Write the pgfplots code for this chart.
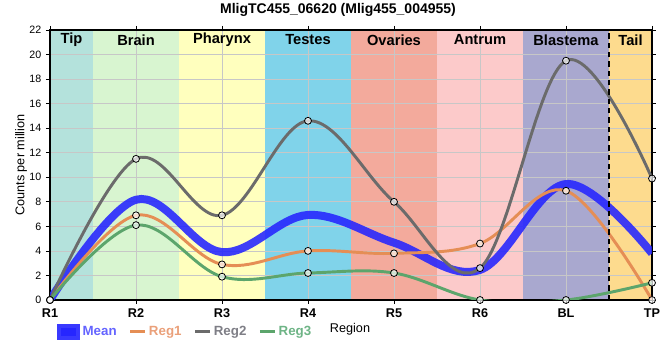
\documentclass[border=0pt]{standalone}
\usepackage{pgfplots}
\pgfplotsset{compat=1.18}
\usepackage{fontspec}
\setmainfont{Liberation Sans}
\definecolor{cTip}{HTML}{B4E2DC}
\definecolor{cBrain}{HTML}{D8F5D0}
\definecolor{cPhar}{HTML}{FFFFBE}
\definecolor{cTest}{HTML}{80D3EA}
\definecolor{cOva}{HTML}{F3AA9C}
\definecolor{cAnt}{HTML}{FCCACA}
\definecolor{cBlas}{HTML}{A9A8CF}
\definecolor{cTail}{HTML}{FDDB8E}
\definecolor{cMean}{HTML}{2424FF}
\definecolor{cReg1}{HTML}{E58E55}
\definecolor{cReg2}{HTML}{6B6B6B}
\definecolor{cReg3}{HTML}{5CA56C}
\definecolor{tMean}{HTML}{6464FF}
\definecolor{tReg1}{HTML}{EAA07A}
\definecolor{tReg2}{HTML}{7E7E86}
\definecolor{tReg3}{HTML}{6EB486}
\pgfplotsset{band/.style={fill=#1, draw=none, forget plot, sharp plot, mark=none, on layer=axis background}}
\begin{document}
\begin{tikzpicture}
\begin{axis}[
  set layers,
  at={(0pt,0pt)}, anchor=south west,
  scale only axis, width=451.5pt, height=202.5pt,
  xmin=0, xmax=7, ymin=0, ymax=22,
  xtick={0,...,7},
  xticklabels={R1,R2,R3,R4,R5,R6,BL,TP},
  x tick label style={font=\fontsize{9.5}{10}\selectfont\bfseries},
  ytick={0,2,...,22},
  y tick label style={font=\fontsize{8}{9}\selectfont},
  /pgf/number format/assume math mode=true,
  tick align=outside, tick style={black, line width=0.6pt},
  major tick length=3pt,
  grid=major, grid style={color=black!22, line width=0.6pt},
  axis line style={black, line width=1.1pt},
  ylabel={Counts per million},
  ylabel style={font=\fontsize{9.5}{10}\selectfont, yshift=-5pt},
  clip=true,
  legend style={at={(axis description cs:0.005,-0.075)}, anchor=north west,
     draw=none, fill=none, legend columns=4,
     font=\fontsize{10}{11}\selectfont\bfseries,
     /tikz/every even column/.append style={column sep=7pt}},
  legend image code/.code={\draw[#1] (0pt,0pt) -- (11pt,0pt);},
  mark options={solid, draw=black, fill=white, fill opacity=0.7, line width=0.6pt},
]
\addplot[band=cTip]   coordinates {(0,22) (0.5,22)} \closedcycle;
\addplot[band=cBrain] coordinates {(0.5,22) (1.5,22)} \closedcycle;
\addplot[band=cPhar]  coordinates {(1.5,22) (2.5,22)} \closedcycle;
\addplot[band=cTest]  coordinates {(2.5,22) (3.5,22)} \closedcycle;
\addplot[band=cOva]   coordinates {(3.5,22) (4.5,22)} \closedcycle;
\addplot[band=cAnt]   coordinates {(4.5,22) (5.5,22)} \closedcycle;
\addplot[band=cBlas]  coordinates {(5.5,22) (6.5,22)} \closedcycle;
\addplot[band=cTail]  coordinates {(6.5,22) (7,22)} \closedcycle;
\addplot[cMean, smooth, tension=0.6, line width=6pt, opacity=0.88, mark=none, legend image code/.code={\fill[cMean,opacity=0.9] (0pt,-3pt) rectangle (11pt,3pt);}] coordinates {
(0,0) (1,8.17) (2,3.9) (3,6.93) (4,4.67) (5,2.45) (6,9.45) (7,3.8)};
\addlegendentry{\textcolor{tMean}{Mean}}
\addplot[cReg1, smooth, tension=0.6, line width=2.2pt, mark=*, mark size=2.6pt] coordinates {
(0,0) (1,6.9) (2,2.9) (3,4.0) (4,3.8) (5,4.6) (6,8.9) (7,0)};
\addlegendentry{\textcolor{tReg1}{Reg1}}
\addplot[cReg2, smooth, tension=0.6, line width=2.2pt, mark=*, mark size=2.6pt] coordinates {
(0,0) (1,11.5) (2,6.9) (3,14.6) (4,8.0) (5,2.6) (6,19.5) (7,9.9)};
\addlegendentry{\textcolor{tReg2}{Reg2}}
\addplot[cReg3, smooth, tension=0.6, line width=2.2pt, mark=*, mark size=2.6pt] coordinates {
(0,0) (1,6.1) (2,1.9) (3,2.2) (4,2.2) (5,0) (6,0) (7,1.4)};
\addlegendentry{\textcolor{tReg3}{Reg3}}
\draw[black, line width=1.6pt, dash pattern=on 4pt off 3pt] (axis cs:6.5,0) -- (axis cs:6.5,22);
\begin{scope}[font=\fontsize{11}{12}\selectfont\bfseries]
\node at (axis cs:0.25,21.2) {Tip};
\node at (axis cs:1,21.2) {Brain};
\node at (axis cs:2,21.2) {Pharynx};
\node at (axis cs:3,21.2) {Testes};
\node at (axis cs:4,21.2) {Ovaries};
\node at (axis cs:5,21.2) {Antrum};
\node at (axis cs:6,21.2) {Blastema};
\node at (axis cs:6.75,21.2) {Tail};
\end{scope}
\end{axis}
\node[font=\fontsize{10.5}{12}\selectfont\bfseries] at (216pt,217.5pt) {MligTC455\_06620 (Mlig455\_004955)};
\node[font=\fontsize{9.5}{11}\selectfont] at (225pt,-22pt) {Region};
\pgfresetboundingbox
\path (-37.5pt,-45pt) rectangle (457.5pt,225pt);
\end{tikzpicture}
\end{document}
